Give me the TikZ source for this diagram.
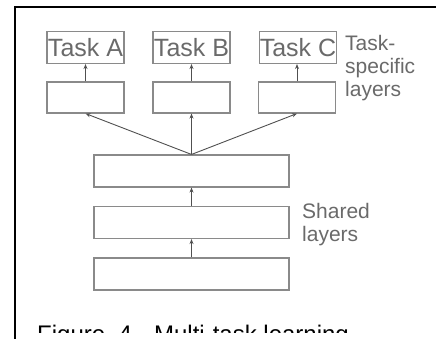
\documentclass[tikz,border=0pt]{standalone}
\usepackage{fontspec}
\setmainfont{Liberation Sans}
\usetikzlibrary{arrows.meta}
\definecolor{boxgray}{HTML}{8A8A8A}
\definecolor{txtgray}{HTML}{6A6A6A}
\definecolor{arrgray}{HTML}{505050}
\begin{document}
\begin{tikzpicture}[x=1pt,y=-1pt,
  taskbox/.style={draw=boxgray,line width=1.1pt,minimum width=77pt,minimum height=32pt,inner sep=0pt,
    text=txtgray,font=\fontsize{25}{25}\selectfont},
  layerbox/.style={draw=boxgray,line width=1.1pt,minimum width=77pt,minimum height=31pt,inner sep=0pt},
  sharedbox/.style={draw=boxgray,line width=1.1pt,minimum width=195pt,minimum height=32pt,inner sep=0pt},
  lbl/.style={text=txtgray,align=left,inner sep=0pt,anchor=north west,font=\fontsize{21}{23}\selectfont},
  arr/.style={draw=arrgray,line width=0.9pt,-{Stealth[length=5pt,width=4pt]}},
  frame/.style={line width=2pt,black}]
\useasboundingbox (0,0) rectangle (436,339);
\clip (0,0) rectangle (436,339);
\draw[frame] (15,339) -- (15,7) -- (436,7);
% task boxes
\node[taskbox] (ta) at (85.5,47.5) {Task A};
\node[taskbox] (tb) at (191.5,47.5) {Task B};
\node[taskbox] (tc) at (298,47.5) {Task C};
% task-specific layers
\node[layerbox] (la) at (85.5,97.5) {};
\node[layerbox] (lb) at (191.5,97.5) {};
\node[layerbox] (lc) at (297,97.5) {};
% shared layers
\node[sharedbox] (s1) at (191.5,171) {};
\node[sharedbox] (s2) at (191.5,222.5) {};
\node[sharedbox] (s3) at (191.5,274) {};
% arrows
\draw[arr] (la.north) -- (ta.south);
\draw[arr] (lb.north) -- (tb.south);
\draw[arr] (lc.north) -- (lc.north |- tc.south);
\draw[arr] (s1.north) -- (la.south);
\draw[arr] (s1.north) -- (lb.south);
\draw[arr] (s1.north) -- (lc.south);
\draw[arr] (s2.north) -- (s1.south);
\draw[arr] (s3.north) -- (s2.south);
% labels
\node[lbl] (tsl) at (345,35) {Task-\\specific\\layers};
\node[lbl] (shl) at (302,203) {Shared\\layers};
% caption (cut off below, as in the reference)
\begin{scope}
\clip (20,300) rectangle (436,332);
\node[anchor=base west,inner sep=0pt,font=\fontsize{24}{24}\selectfont] (cap) at (37,342) {Figure \ 4. \ Multi-task learning};
\end{scope}
\end{tikzpicture}
\end{document}
